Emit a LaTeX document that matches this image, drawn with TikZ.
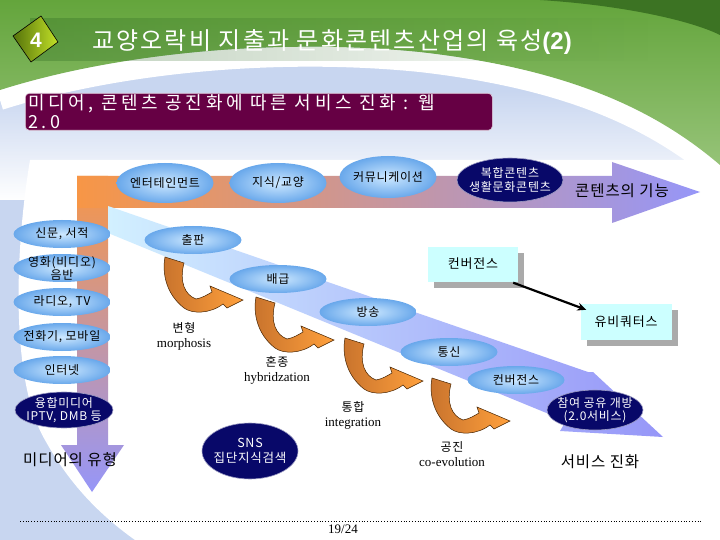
\documentclass[tikz,border=0pt]{standalone}
\usepackage{fontspec}
\setmainfont{Liberation Serif}
\newfontfamily\kr{Noto Sans CJK KR}
\newfontfamily\krsp{Noto Sans CJK KR}[LetterSpace=20]
\newfontfamily\krti{Noto Sans CJK KR}[LetterSpace=9]
\newfontfamily\krel{Noto Sans CJK KR}[LetterSpace=6]
\newfontfamily\arialb{Liberation Sans}
\usetikzlibrary{shapes.geometric,arrows.meta,shadows,fadings}
\newcommand\myfs[2]{\fontsize{#1}{#2}\selectfont}
\definecolor{bgblue}{RGB}{200,214,240}
\definecolor{greenA}{RGB}{100,165,60}
\definecolor{greenB}{RGB}{150,195,120}
\definecolor{darkg}{RGB}{60,115,35}
\definecolor{bandg}{RGB}{40,100,30}
\definecolor{purp}{RGB}{102,0,68}
\definecolor{orangeb}{RGB}{247,150,70}
\definecolor{pinkb}{RGB}{225,140,165}
\definecolor{lavb}{RGB}{150,150,248}
\definecolor{cyanl}{RGB}{210,240,255}
\definecolor{ellin}{RGB}{205,232,255}
\definecolor{ellout}{RGB}{105,168,235}
\definecolor{navyc}{RGB}{8,8,105}
\definecolor{cyanbox}{RGB}{204,255,255}
\definecolor{shadowgray}{RGB}{170,170,170}
\definecolor{arrbrown}{RGB}{200,115,45}
\definecolor{arrorange}{RGB}{255,160,60}
\definecolor{arrline}{RGB}{70,35,0}
\definecolor{diaA}{RGB}{85,115,10}
\definecolor{diaB}{RGB}{195,225,40}
\tikzfading[name=fadeup, top color=transparent!100, bottom color=transparent!0]
\tikzfading[name=faderight, left color=transparent!0, right color=transparent!100]
\begin{document}
\begin{tikzpicture}[x=1pt,y=-1pt,
  ell/.style={ellipse, inner sep=0pt, minimum width=97pt, minimum height=28pt, inner color=ellin, outer color=ellout},
  navy/.style={ellipse, inner sep=0pt, fill=navyc, draw=white!60!navyc, line width=0.6pt},
  eltxt/.style={inner sep=0pt, align=center, font=\krel\myfs{12}{14}},
  navytxt/.style={inner sep=0pt, align=center, text=white, font=\krel\myfs{12}{14}},
  cbox/.style={rectangle, fill=cyanbox, inner sep=0pt, minimum width=90pt, minimum height=35pt, font=\krel\myfs{13}{15},
     general shadow={fill=shadowgray, shadow xshift=6pt, shadow yshift=-6pt}},
  stagelbl/.style={inner sep=0pt, align=center, font=\myfs{13}{15}},
  bigtxt/.style={inner sep=0pt, font=\krel\myfs{15.5}{18}},
  curvarr/.pic={
    \path[shade, left color=arrbrown, right color=arrorange, draw=arrline, line width=0.5pt]
      (0,0) -- (19,6) .. controls (14,25) and (20,38) .. (31,42)
      .. controls (37,41) and (42,38) .. (47,35) -- (45,29) -- (78,43) -- (62,51) -- (58,47)
      .. controls (45,57) and (27,57) .. (19,51) .. controls (1,37) and (-3,16) .. cycle;
  }]
\useasboundingbox (0,0) rectangle (720,540);
% ---------- background ----------
\fill[bgblue] (0,0) rectangle (720,540);
\fill[white] (30,160) .. controls (15,250) and (10,380) .. (45,440) .. controls (70,485) and (100,515) .. (135,540) -- (720,540) -- (720,160) -- cycle;
\fill[white, path fading=fadeup] (0,90) rectangle (720,200);
\draw[white, line width=20pt] (0,100) .. controls (120,62) and (280,48) .. (420,62) .. controls (560,78) and (650,115) .. (720,175);
\shade[top color=greenA, bottom color=greenB] (0,0) -- (720,0) -- (720,165) .. controls (650,105) and (560,68) .. (420,52) .. controls (280,38) and (120,52) .. (0,90) -- cycle;
\fill[darkg] (540,0) .. controls (620,5) and (690,20) .. (720,35) -- (720,0) -- cycle;
\fill[bandg, opacity=0.3, path fading=faderight] (30,18) rectangle (650,61);
% ---------- title ----------
\path[shade, left color=diaA, right color=diaB, draw=black, line width=0.6pt] (41,16) -- (58,42) -- (31,62) -- (13,36) -- cycle;
\node[text=white, font=\arialb\bfseries\myfs{21}{22}] (num) at (36,40) {4};
\node[anchor=west, text=white, inner sep=0pt, font=\krti\myfs{24}{26}] (title) at (92,42) {교양오락비 지출과 문화콘텐츠산업의 육성{\arialb\bfseries(2)}};
% ---------- subtitle box ----------
\node[rectangle, rounded corners=4pt, fill=purp, draw=white!80!purp, line width=0.6pt, minimum width=467pt, minimum height=37pt, anchor=north west, inner sep=0pt] (sub) at (25,93) {};
\node[anchor=north west, text=white, align=left, inner sep=0pt, font=\krsp\myfs{18}{19.5}] (subtxt) at (28,94) {미디어, 콘텐츠 공진화에 따른 서비스 진화 : 웹\\2.0};
% ---------- big arrows ----------
\shade[top color=orangeb, middle color=pinkb, bottom color=lavb] (77,176) -- (108,176) -- (108,445) -- (124,445) -- (92,492) -- (61,445) -- (77,445) -- cycle;
\shade[left color=orangeb, middle color=pinkb, right color=lavb] (77,176) -- (612,176) -- (612,162) -- (700,192) -- (612,223) -- (612,208) -- (77,208) -- cycle;
\shade[left color=cyanl, right color=lavb] (108,206) -- (588,372) -- (593,372) -- (663,437) -- (560,431) -- (566,421) -- (108,233) -- cycle;
% ---------- top ellipses ----------
\node[ell, minimum height=40pt] (ent) at (165,183) {};
\node[eltxt] (entt) at (ent) {엔터테인먼트};
\node[ell, minimum height=40pt] (know) at (278,183) {};
\node[eltxt] (knowt) at (know) {지식/교양};
\node[ell, minimum height=42pt] (comm) at (388,177) {};
\node[eltxt] (commt) at (comm) {커뮤니케이션};
\node[navy, minimum width=106pt, minimum height=44pt] (mix) at (510,180) {};
\node[navytxt] (mixt) at (mix) {복합콘텐츠\\생활문화콘텐츠};
\node[bigtxt] (func) at (622,191) {콘텐츠의 기능};
% ---------- left ellipses ----------
\node[ell] (news) at (62,234) {};
\node[eltxt] (newst) at (news) {신문, 서적};
\node[ell] (film) at (62,268) {};
\node[eltxt, font=\krel\myfs{12}{13}] (filmt) at (film) {영화(비디오)\\음반};
\node[ell] (radio) at (62,302) {};
\node[eltxt] (radiot) at (radio) {라디오, TV};
\node[ell] (phone) at (62,337) {};
\node[eltxt] (phonet) at (phone) {전화기, 모바일};
\node[ell] (inet) at (62,370) {};
\node[eltxt] (inett) at (inet) {인터넷};
\node[navy, minimum width=98pt, minimum height=36pt] (conv) at (64,410) {};
\node[navytxt, font=\krel\myfs{12}{13}] (convt) at (conv) {융합미디어\\IPTV, DMB 등};
\node[bigtxt] (mtype) at (70,460) {미디어의 유형};
% ---------- diagonal ellipses ----------
\node[ell] (pub) at (193,240) {};
\node[eltxt] (pubt) at (pub) {출판};
\node[ell] (dist) at (278,279) {};
\node[eltxt] (distt) at (dist) {배급};
\node[ell] (broad) at (368,312) {};
\node[eltxt] (broadt) at (broad) {방송};
\node[ell] (tele) at (449,352) {};
\node[eltxt] (telet) at (tele) {통신};
\node[ell] (convg) at (516,380) {};
\node[eltxt] (convgt) at (convg) {컨버전스};
\node[navy, minimum width=96pt, minimum height=40pt] (part) at (595,410) {};
\node[navytxt, font=\krel\myfs{12}{13}] (partt) at (part) {참여 공유 개방\\(2.0서비스)};
\node[bigtxt] (serv) at (600,462) {서비스 진화};
% ---------- curved arrows ----------
\pic at (165,257) {curvarr};
\pic at (256,297) {curvarr};
\pic at (345,338) {curvarr};
\pic at (432,378) {curvarr};
% ---------- stage labels ----------
\node[stagelbl] (morph) at (184,336) {{\krel\myfs{12}{15}변형}\\morphosis};
\node[stagelbl] (hybr) at (277,370) {{\krel\myfs{12}{15}혼종}\\hybridzation};
\node[stagelbl] (integ) at (353,415) {{\krel\myfs{12}{15}통합}\\integration};
\node[stagelbl] (coev) at (452,454) {{\krel\myfs{12}{15}공진}\\co-evolution};
\node[navy, minimum width=96pt, minimum height=56pt] (sns) at (250,451) {};
\node[navytxt, font=\krel\myfs{12.5}{15}] (snst) at (sns) {SNS\\집단지식검색};
% ---------- boxes ----------
\node[cbox] (cbox1) at (473,264) {컨버전스};
\node[cbox, minimum width=91pt, minimum height=36pt] (ubi) at (626,322) {유비쿼터스};
\draw[line width=2.2pt, -{Stealth[length=9pt,width=8pt]}] ([shift={(-5,1)}]cbox1.south east) -- ([shift={(6,6)}]ubi.north west);
% ---------- footer ----------
\coordinate (fl) at (20,521);
\coordinate (fr) at (703,521);
\draw[dotted, line width=0.8pt] (fl) -- (fr);
\node[inner sep=0pt, font=\myfs{13}{15}] (page) at (343,529) {19/24};
\end{tikzpicture}
\end{document}
